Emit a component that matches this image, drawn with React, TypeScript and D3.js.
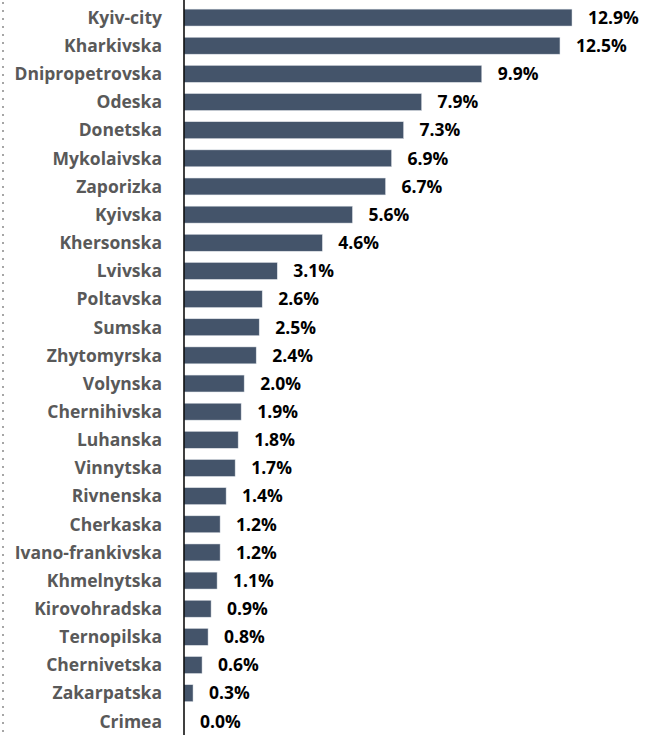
import React, { useEffect } from "react";
import * as d3 from "d3";

const regions = [
  "Kyiv-city", "Kharkivska", "Dnipropetrovska", "Odeska", "Donetska", "Mykolaivska",
  "Zaporizka", "Kyivska", "Khersonska", "Lvivska", "Poltavska", "Sumska", "Zhytomyrska",
  "Volynska", "Chernihivska", "Luhanska", "Vinnytska", "Rivnenska", "Cherkaska",
  "Ivano-frankivska", "Khmelnytska", "Kirovohradska", "Ternopilska", "Chernivetska",
  "Zakarpatska", "Crimea",
];
const shares = [
  12.9, 12.5, 9.9, 7.9, 7.3, 6.9, 6.7, 5.6, 4.6, 3.1, 2.6, 2.5, 2.4, 2.0, 1.9, 1.8, 1.7,
  1.4, 1.2, 1.2, 1.1, 0.9, 0.8, 0.6, 0.3, 0.0,
];

const W = 651;
const H = 735;
const axisX = 184;

export default function App() {
  useEffect(() => {
    document.body.style.margin = "0";
  }, []);

  const x = d3.scaleLinear().domain([0, 12.9]).range([axisX, 572]);
  const y = d3
    .scaleBand<string>()
    .domain(regions)
    .range([3.5, 3.5 + 28.15 * regions.length])
    .paddingInner(0.4)
    .paddingOuter(0.2);
  const font = "'Open Sans', 'DejaVu Sans', sans-serif";

  return (
    <svg width={W} height={H} style={{ display: "block", background: "#fff" }}>
      <line x1={3} x2={3} y1={2} y2={H} stroke="#a6a6a6" strokeWidth={2} strokeDasharray="2 6" />
      {regions.map((r, i) => {
        const yc = (y(r) as number) + y.bandwidth() / 2;
        return (
          <g key={r}>
            <rect
              x={x(0)}
              y={y(r)}
              width={x(shares[i]) - x(0)}
              height={y.bandwidth()}
              fill="#44546a"
              stroke="#dbe0e6"
              strokeWidth={0.5}
            />
            <text
              x={162}
              y={yc}
              dy="0.36em"
              textAnchor="end"
              fontFamily={font}
              fontWeight={700}
              fontSize={17.5}
              fill="#595959"
            >
              {r}
            </text>
            <text
              x={x(shares[i]) + 16}
              y={yc}
              dy="0.36em"
              fontFamily={font}
              fontWeight={700}
              fontSize={17.5}
              fill="#000"
            >
              {d3.format(".1f")(shares[i]) + "%"}
            </text>
          </g>
        );
      })}
      <line x1={axisX} x2={axisX} y1={0} y2={H} stroke="#000" strokeWidth={1.5} />
    </svg>
  );
}
